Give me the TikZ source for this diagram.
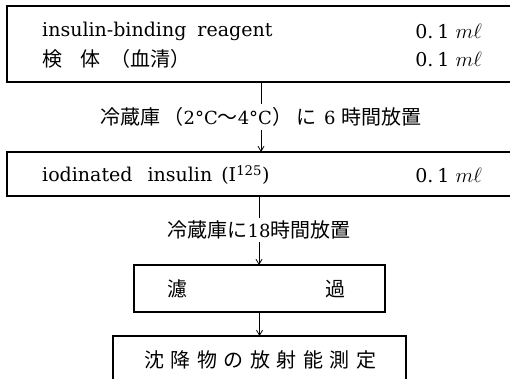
\documentclass[tikz,border=0pt]{standalone}
\usepackage{fontspec}
\setmainfont{DejaVu Serif}
\newfontfamily\cjk{Noto Sans CJK JP}
\usetikzlibrary{arrows.meta}
\newcommand{\jp}[1]{{\fontsize{20}{24}\selectfont\cjk #1}}
\newcommand{\mlunit}{0.\hspace{4pt}1 {\fontsize{21}{24}\selectfont$m\ell$}}
\begin{document}
\begin{tikzpicture}[x=1pt,y=-1pt,
  boxline/.style={line width=1.1pt},
  frame/.style={inner sep=0pt, outer sep=0pt},
  txt/.style={font=\fontsize{19}{22}\selectfont, inner sep=0pt},
  jtxt/.style={font=\fontsize{20}{24}\selectfont\cjk, inner sep=0pt},
  lbl/.style={font=\fontsize{18}{22}\selectfont, inner sep=3pt},
  arr/.style={-{Straight Barb[length=5pt,width=6pt]}, line width=0.8pt}]
\useasboundingbox (0,0) rectangle (510,378);
% box 1 (open on the right)
\node[frame, minimum width=520pt, minimum height=76pt, anchor=north west] (b1) at (7,6) {};
\draw[boxline] (b1.north east) -- (b1.north west) -- (b1.south west) -- (b1.south east);
\node[txt, anchor=west] (t1) at (42,31) {insulin-binding\hspace{5pt} reagent};
\node[jtxt, anchor=west] (t2) at (42,59) {検\hspace{18pt}体\hspace{10pt}（血清）};
\node[txt, anchor=east] (v1) at (482,31) {\mlunit};
\node[txt, anchor=east] (v2) at (482,59) {\mlunit};
% label 1
\node[lbl] (L1) at (261,117) {\jp{冷蔵庫\hspace{3pt}（}2°C\jp{～}4°C\jp{）\hspace{5pt}に}\hspace{7pt}6\hspace{6pt}\jp{時間放置}};
% box 2 (open on the right)
\node[frame, minimum width=520pt, minimum height=44pt, anchor=north west] (b2) at (7,152) {};
\draw[boxline] (b2.north east) -- (b2.north west) -- (b2.south west) -- (b2.south east);
\node[txt, anchor=west] (t3) at (42,175) {iodinated\hspace{9pt} insulin\hspace{3pt} (I\textsuperscript{125})};
\node[txt, anchor=east] (v3) at (482,175) {\mlunit};
% label 2
\node[lbl] (L2) at (259,230) {\jp{冷蔵庫に}18\jp{時間放置}};
% box 3
\node[frame, draw, boxline, minimum width=251pt, minimum height=47pt] (b3) at (259.5,288.5) {};
\node[jtxt] (t4) at (177,289) {濾};
\node[jtxt] (t5) at (335,289) {過};
% box 4 (bottom cut off by the page)
\node[frame, draw, boxline, minimum width=293pt, minimum height=80pt, anchor=north] (b4) at (259.5,336) {};
\node[jtxt] (t6) at (260,360) {沈\hspace{6.5pt}降\hspace{6.5pt}物\hspace{6.5pt}の\hspace{6.5pt}放\hspace{6.5pt}射\hspace{6.5pt}能\hspace{6.5pt}測\hspace{6.5pt}定};
% connectors
\draw[line width=0.8pt] (L1.north |- b1.south) -- (L1.north);
\draw[arr] (L1.south) -- (L1.south |- b2.north);
\draw[line width=0.8pt] (L2.north |- b2.south) -- (L2.north);
\draw[arr] (L2.south) -- (L2.south |- b3.north);
\draw[arr] (b3.south) -- (b4.north);
\end{tikzpicture}
\end{document}
